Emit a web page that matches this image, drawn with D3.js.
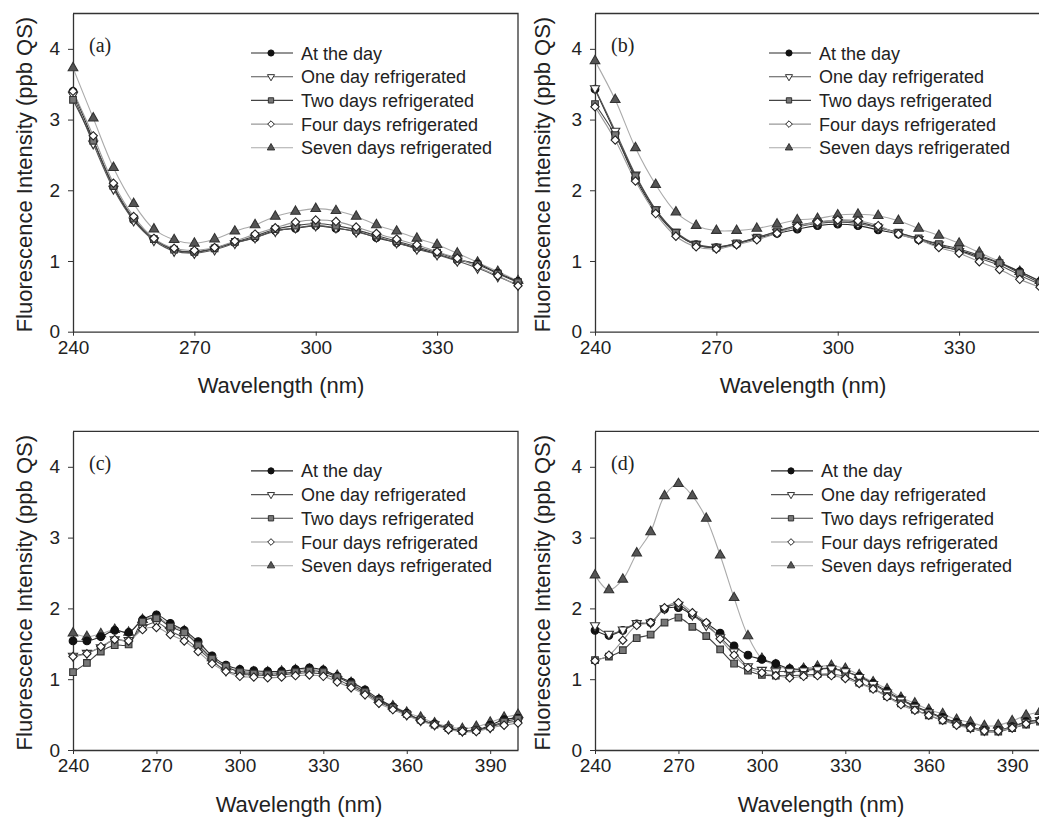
<!doctype html>
<html>
<head>
<style>
  body { margin: 0; background: #fff; }
  text { font-family: "Liberation Sans", Arial, sans-serif; fill: #222; }
  .plabel { font-family: "Liberation Serif", "Times New Roman", serif; }
</style>
<script src="https://d3js.org/d3.v7.min.js"></script>
</head>
<body>
<svg width="1039" height="818"></svg>
<script>
// wavelengths (nm)
var wlShort = [240,245,250,255,260,265,270,275,280,285,290,295,300,305,310,315,320,325,330,335,340,345,350];
var wlLong = [240,245,250,255,260,265,270,275,280,285,290,295,300,305,310,315,320,325,330,335,340,345,350,355,360,365,370,375,380,385,390,395,400];

var seriesNames = ["At the day", "One day refrigerated", "Two days refrigerated", "Four days refrigerated", "Seven days refrigerated"];
var panelLabels = ["(a)", "(b)", "(c)", "(d)"];
var ticksShort = [240, 270, 300, 330];
var ticksLong = [240, 270, 300, 330, 360, 390];
var yTicks = [0, 1, 2, 3, 4];

// panel (a)
var aAtDay   = [3.40,2.71,2.05,1.58,1.31,1.16,1.12,1.18,1.26,1.33,1.43,1.46,1.50,1.46,1.42,1.33,1.26,1.18,1.10,1.01,0.96,0.83,0.71];
var aOneDay  = [3.35,2.66,2.02,1.57,1.29,1.14,1.11,1.16,1.25,1.33,1.42,1.47,1.50,1.47,1.41,1.34,1.26,1.17,1.09,1.00,0.90,0.78,0.66];
var aTwo     = [3.28,2.70,2.06,1.60,1.31,1.16,1.13,1.18,1.27,1.35,1.45,1.50,1.53,1.50,1.44,1.36,1.28,1.20,1.12,1.03,0.95,0.82,0.70];
var aFour    = [3.40,2.77,2.10,1.63,1.32,1.18,1.15,1.19,1.28,1.38,1.47,1.55,1.58,1.56,1.48,1.39,1.31,1.23,1.13,1.04,0.92,0.79,0.65];
var aSeven   = [3.73,3.02,2.32,1.81,1.45,1.30,1.25,1.31,1.42,1.51,1.63,1.70,1.74,1.71,1.63,1.51,1.42,1.32,1.23,1.11,0.98,0.85,0.72];

// panel (b)
var bAtDay   = [3.43,2.81,2.17,1.70,1.39,1.23,1.19,1.24,1.32,1.39,1.45,1.50,1.52,1.50,1.44,1.38,1.30,1.21,1.15,1.06,0.97,0.85,0.71];
var bOneDay  = [3.44,2.84,2.22,1.73,1.41,1.24,1.20,1.25,1.33,1.41,1.48,1.53,1.55,1.53,1.47,1.40,1.31,1.23,1.14,1.04,0.94,0.80,0.67];
var bTwo     = [3.22,2.78,2.20,1.72,1.40,1.23,1.19,1.25,1.33,1.42,1.50,1.55,1.57,1.55,1.48,1.40,1.32,1.24,1.17,1.08,0.97,0.83,0.69];
var bFour    = [3.18,2.71,2.13,1.67,1.35,1.20,1.17,1.23,1.30,1.39,1.49,1.55,1.58,1.57,1.50,1.38,1.30,1.19,1.11,0.99,0.88,0.74,0.63];
var bSeven   = [3.83,3.28,2.60,2.08,1.69,1.50,1.43,1.43,1.46,1.52,1.58,1.60,1.65,1.66,1.64,1.57,1.46,1.36,1.25,1.12,0.99,0.85,0.72];

// panel (c)
var cAtDay   = [1.54,1.54,1.60,1.69,1.66,1.84,1.91,1.79,1.69,1.53,1.33,1.20,1.14,1.12,1.11,1.11,1.14,1.16,1.13,1.04,0.96,0.85,0.72,0.61,0.52,0.42,0.37,0.31,0.27,0.28,0.35,0.43,0.45];
var cOneDay  = [1.33,1.37,1.45,1.56,1.55,1.73,1.80,1.68,1.58,1.43,1.26,1.12,1.07,1.06,1.05,1.06,1.08,1.09,1.07,1.00,0.90,0.80,0.68,0.59,0.50,0.42,0.36,0.30,0.27,0.28,0.32,0.38,0.41];
var cTwo     = [1.10,1.23,1.39,1.48,1.49,1.81,1.86,1.74,1.66,1.48,1.29,1.18,1.10,1.08,1.07,1.08,1.10,1.12,1.10,1.03,0.93,0.82,0.70,0.60,0.51,0.43,0.36,0.31,0.27,0.28,0.33,0.40,0.44];
var cFour    = [1.32,1.36,1.46,1.56,1.54,1.70,1.73,1.63,1.54,1.39,1.22,1.11,1.04,1.03,1.02,1.03,1.05,1.06,1.04,0.96,0.88,0.78,0.66,0.57,0.49,0.41,0.35,0.29,0.26,0.26,0.31,0.35,0.38];
var cSeven   = [1.65,1.60,1.64,1.70,1.66,1.84,1.88,1.76,1.68,1.50,1.30,1.17,1.12,1.10,1.10,1.11,1.13,1.14,1.12,1.05,0.95,0.83,0.71,0.62,0.53,0.46,0.38,0.33,0.30,0.33,0.39,0.46,0.50];

// panel (d)
var dAtDay   = [1.69,1.62,1.69,1.78,1.80,1.99,2.01,1.91,1.79,1.65,1.47,1.34,1.28,1.22,1.15,1.14,1.15,1.15,1.11,1.04,0.94,0.83,0.72,0.62,0.54,0.46,0.39,0.33,0.28,0.28,0.33,0.40,0.42];
var dOneDay  = [1.76,1.64,1.70,1.79,1.80,2.00,2.05,1.91,1.76,1.59,1.39,1.18,1.13,1.11,1.11,1.12,1.14,1.15,1.11,1.03,0.93,0.81,0.71,0.61,0.53,0.45,0.38,0.32,0.28,0.28,0.33,0.39,0.42];
var dTwo     = [1.27,1.32,1.41,1.58,1.63,1.80,1.87,1.74,1.61,1.42,1.22,1.12,1.06,1.05,1.05,1.06,1.07,1.07,1.04,0.95,0.87,0.76,0.66,0.57,0.49,0.42,0.37,0.31,0.26,0.26,0.31,0.36,0.40];
var dFour    = [1.26,1.34,1.55,1.76,1.80,2.01,2.08,1.94,1.80,1.57,1.34,1.16,1.09,1.05,1.02,1.04,1.05,1.05,1.01,0.94,0.86,0.75,0.64,0.56,0.49,0.42,0.35,0.31,0.27,0.27,0.31,0.37,0.41];
var dSeven   = [2.47,2.26,2.41,2.78,3.08,3.59,3.76,3.59,3.27,2.75,2.15,1.61,1.29,1.20,1.14,1.15,1.18,1.19,1.15,1.06,0.96,0.86,0.74,0.66,0.57,0.51,0.43,0.39,0.34,0.35,0.41,0.49,0.54];

// marker / line styles per series
var styles = [
  { sym: d3.symbolCircle,   rot: 0,   size: 46, lsize: 30, fill: "#111", stroke: "#111", line: "#2a2a2a" },
  { sym: d3.symbolTriangle, rot: 180, size: 36, lsize: 22, fill: "#fff", stroke: "#333", line: "#555" },
  { sym: d3.symbolSquare,   rot: 0,   size: 44, lsize: 28, fill: "#777", stroke: "#333", line: "#444" },
  { sym: d3.symbolDiamond2, rot: 0,   size: 44, lsize: 28, fill: "#fff", stroke: "#222", line: "#999" },
  { sym: d3.symbolTriangle, rot: 0,   size: 40, lsize: 24, fill: "#555", stroke: "#333", line: "#aaa" }
];
var drawOrder = [4, 0, 1, 2, 3];

var panels = [
  { left: 73,  top: 13.5,  right: 518,  bottom: 331.7, wl: wlShort, xmax: 350, ticks: ticksShort, data: [aAtDay, aOneDay, aTwo, aFour, aSeven], label: panelLabels[0], legX: 228, xTitleX: 281, xTitleY: 393, yTitleX: 32 },
  { left: 595, top: 13.5,  right: 1040, bottom: 331.7, wl: wlShort, xmax: 350, ticks: ticksShort, data: [bAtDay, bOneDay, bTwo, bFour, bSeven], label: panelLabels[1], legX: 224, xTitleX: 803, xTitleY: 393, yTitleX: 550 },
  { left: 73,  top: 431.4, right: 518,  bottom: 750,   wl: wlLong,  xmax: 400, ticks: ticksLong,  data: [cAtDay, cOneDay, cTwo, cFour, cSeven], label: panelLabels[2], legX: 228, xTitleX: 299, xTitleY: 812, yTitleX: 32 },
  { left: 595, top: 431.4, right: 1040, bottom: 750,   wl: wlLong,  xmax: 400, ticks: ticksLong,  data: [dAtDay, dOneDay, dTwo, dFour, dSeven], label: panelLabels[3], legX: 226, xTitleX: 821, xTitleY: 812, yTitleX: 550 }
];

var svg = d3.select("svg");

panels.forEach(function(p) {
  var x = d3.scaleLinear().domain([240, p.xmax]).range([p.left, p.right]);
  var y = d3.scaleLinear().domain([0, 4.5]).range([p.bottom, p.top]);

  var g = svg.append("g");

  // frame (top + right)
  g.append("path")
    .attr("d", "M" + p.left + "," + p.top + "H" + p.right + "V" + p.bottom)
    .attr("fill", "none").attr("stroke", "#333").attr("stroke-width", 1.3);

  var xa = g.append("g")
    .attr("transform", "translate(0," + p.bottom + ")")
    .call(d3.axisBottom(x).tickValues(p.ticks).tickFormat(d3.format("d")).tickSize(4).tickSizeOuter(0).tickPadding(5));
  var ya = g.append("g")
    .attr("transform", "translate(" + p.left + ",0)")
    .call(d3.axisLeft(y).tickValues(yTicks).tickFormat(d3.format("d")).tickSize(5).tickSizeOuter(0).tickPadding(8));
  [xa, ya].forEach(function(a) {
    a.select(".domain").attr("stroke", "#333").attr("stroke-width", 1.3);
    a.selectAll(".tick line").attr("stroke", "#333");
    a.selectAll(".tick text").attr("font-size", 19).attr("fill", "#222")
      .attr("font-family", "Liberation Sans, Arial, sans-serif");
  });

  // axis titles
  g.append("text")
    .attr("x", p.xTitleX).attr("y", p.xTitleY)
    .attr("text-anchor", "middle").attr("font-size", 22)
    .text("Wavelength (nm)");
  g.append("text")
    .attr("transform", "translate(" + p.yTitleX + "," + ((p.top + p.bottom) / 2 + 2) + ") rotate(-90)")
    .attr("text-anchor", "middle").attr("font-size", 22)
    .text("Fluorescence Intensity (ppb QS)");

  // panel label
  g.append("text").attr("class", "plabel")
    .attr("x", p.left + 16).attr("y", p.top + 38.5)
    .attr("font-size", 20)
    .text(p.label);

  var line = d3.line()
    .x(function(d, i) { return x(p.wl[i]); })
    .y(function(d) { return y(d); })
    .curve(d3.curveCatmullRom);

  drawOrder.forEach(function(si) {
    var st = styles[si];
    g.append("path")
      .datum(p.data[si])
      .attr("d", line)
      .attr("fill", "none")
      .attr("stroke", st.line)
      .attr("stroke-width", 1.1);
  });
  drawOrder.forEach(function(si) {
    var st = styles[si];
    g.selectAll(null)
      .data(p.data[si])
      .enter().append("path")
      .attr("d", d3.symbol().type(st.sym).size(st.size))
      .attr("transform", function(d, i) { return "translate(" + x(p.wl[i]) + "," + y(d) + ") rotate(" + st.rot + ")"; })
      .attr("fill", st.fill)
      .attr("stroke", st.stroke)
      .attr("stroke-width", 1.1);
  });

  // legend
  var leg = g.append("g").attr("transform", "translate(" + (p.left + p.legX) + "," + (p.top + 39.5) + ")");
  seriesNames.forEach(function(name, i) {
    var st = styles[i];
    var row = leg.append("g").attr("transform", "translate(0," + (i * 23.7) + ")");
    row.append("line").attr("x1", -50).attr("x2", -8).attr("y1", 0).attr("y2", 0)
      .attr("stroke", st.line).attr("stroke-width", 1.1);
    row.append("path")
      .attr("d", d3.symbol().type(st.sym).size(st.lsize))
      .attr("transform", "translate(-30,0) rotate(" + st.rot + ")")
      .attr("fill", st.fill).attr("stroke", st.stroke).attr("stroke-width", 1);
    row.append("text").attr("x", 0).attr("y", 6.5).attr("font-size", 18).text(name);
  });
});
</script>
</body>
</html>
